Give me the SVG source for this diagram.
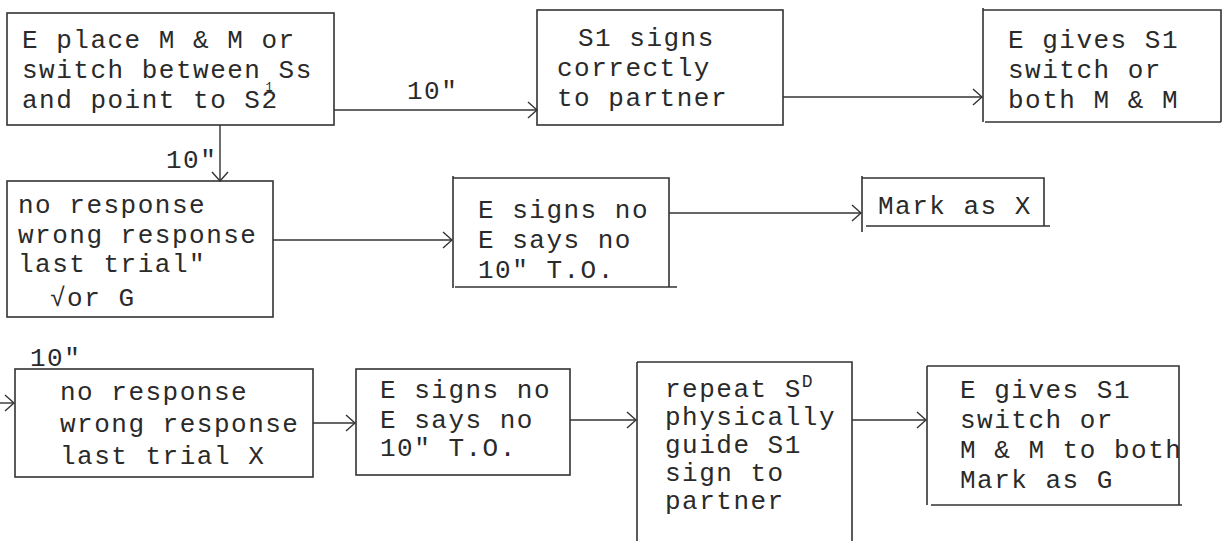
<svg xmlns="http://www.w3.org/2000/svg" width="1225" height="541" viewBox="0 0 1225 541">
<defs>
<style>
text{font-family:"Liberation Mono","Courier New",monospace;font-size:26px;letter-spacing:1.5px;fill:#2a2a2a}
.b{fill:none;stroke:#333;stroke-width:1.6}
.c{fill:none;stroke:#333;stroke-width:1.4}
</style>
<marker id="ah" markerWidth="12" markerHeight="18" refX="11" refY="9" orient="auto" markerUnits="userSpaceOnUse">
<path d="M2,1 L11,9 L2,17" fill="none" stroke="#333" stroke-width="1.4"/>
</marker>
</defs>
<rect width="1225" height="541" fill="#fff"/>
<g id="n1">
<rect class="b" x="7" y="13" width="327" height="112"/>
<text x="22" y="48">E place M &amp; M or</text>
<text x="22" y="78">switch between Ss</text>
<text x="22" y="108">and point to S2<tspan dx="-13" dy="-17" style="font-size:12px;letter-spacing:0">1</tspan></text>
</g>
<g id="n2">
<rect class="b" x="537" y="10" width="246" height="115"/>
<text x="578" y="46">S1 signs</text>
<text x="557" y="76">correctly</text>
<text x="557" y="106">to partner</text>
</g>
<g id="n3">
<path class="b" d="M983,8 V122 M983,10 H1221 V122 M985,122 H1221"/>
<text x="1008" y="48">E gives S1</text>
<text x="1008" y="78">switch or</text>
<text x="1008" y="108">both M &amp; M</text>
</g>
<g id="n4">
<rect class="b" x="7" y="181" width="266" height="136"/>
<text x="18" y="213">no response</text>
<text x="18" y="243">wrong response</text>
<text x="18" y="272">last trial"</text>
<text x="50" y="306">√or G</text>
</g>
<g id="n5">
<path class="b" d="M453,178 H669 V287 M453,176 V288 M455,287 H677"/>
<text x="478" y="218">E signs no</text>
<text x="478" y="248">E says no</text>
<text x="478" y="278">10" T.O.</text>
</g>
<g id="n6">
<path class="b" d="M862,176 V232 M862,178 H1044 V226 M866,226 H1050"/>
<text x="878" y="214">Mark as X</text>
</g>
<g id="n7">
<rect class="b" x="15" y="369" width="298" height="108"/>
<text x="60" y="400">no response</text>
<text x="60" y="432">wrong response</text>
<text x="60" y="464">last trial  X</text>
</g>
<g id="n8">
<rect class="b" x="356" y="369" width="214" height="106"/>
<text x="380" y="398">E signs no</text>
<text x="380" y="428">E says no</text>
<text x="380" y="456">10" T.O.</text>
</g>
<g id="n9">
<path class="b" d="M637,362 V541 M637,362 H852 V541"/>
<text x="665" y="397">repeat S<tspan font-size="18" dy="-10">D</tspan></text>
<text x="665" y="425">physically</text>
<text x="665" y="453">guide S1</text>
<text x="665" y="481">sign to</text>
<text x="665" y="509">partner</text>
</g>
<g id="n10">
<path class="b" d="M927,366 V505 M927,366 H1179 V505 M931,505 H1182"/>
<text x="960" y="398">E gives S1</text>
<text x="960" y="428">switch or</text>
<text x="960" y="458">M &amp; M to both</text>
<text x="960" y="488">Mark as G</text>
</g>
<g id="connectors">
<line class="c" x1="334" y1="110" x2="537" y2="110" marker-end="url(#ah)"/>
<text x="407" y="99">10"</text>
<line class="c" x1="783" y1="97" x2="982" y2="97" marker-end="url(#ah)"/>
<line class="c" x1="220" y1="125" x2="220" y2="181" marker-end="url(#ah)"/>
<text x="166" y="168">10"</text>
<line class="c" x1="273" y1="240" x2="452" y2="240" marker-end="url(#ah)"/>
<line class="c" x1="669" y1="213" x2="861" y2="213" marker-end="url(#ah)"/>
<text x="30" y="366">10"</text>
<line class="c" x1="0" y1="403" x2="14" y2="403" marker-end="url(#ah)"/>
<line class="c" x1="313" y1="423" x2="355" y2="423" marker-end="url(#ah)"/>
<line class="c" x1="570" y1="420" x2="636" y2="420" marker-end="url(#ah)"/>
<line class="c" x1="852" y1="420" x2="926" y2="420" marker-end="url(#ah)"/>
</g>
</svg>
